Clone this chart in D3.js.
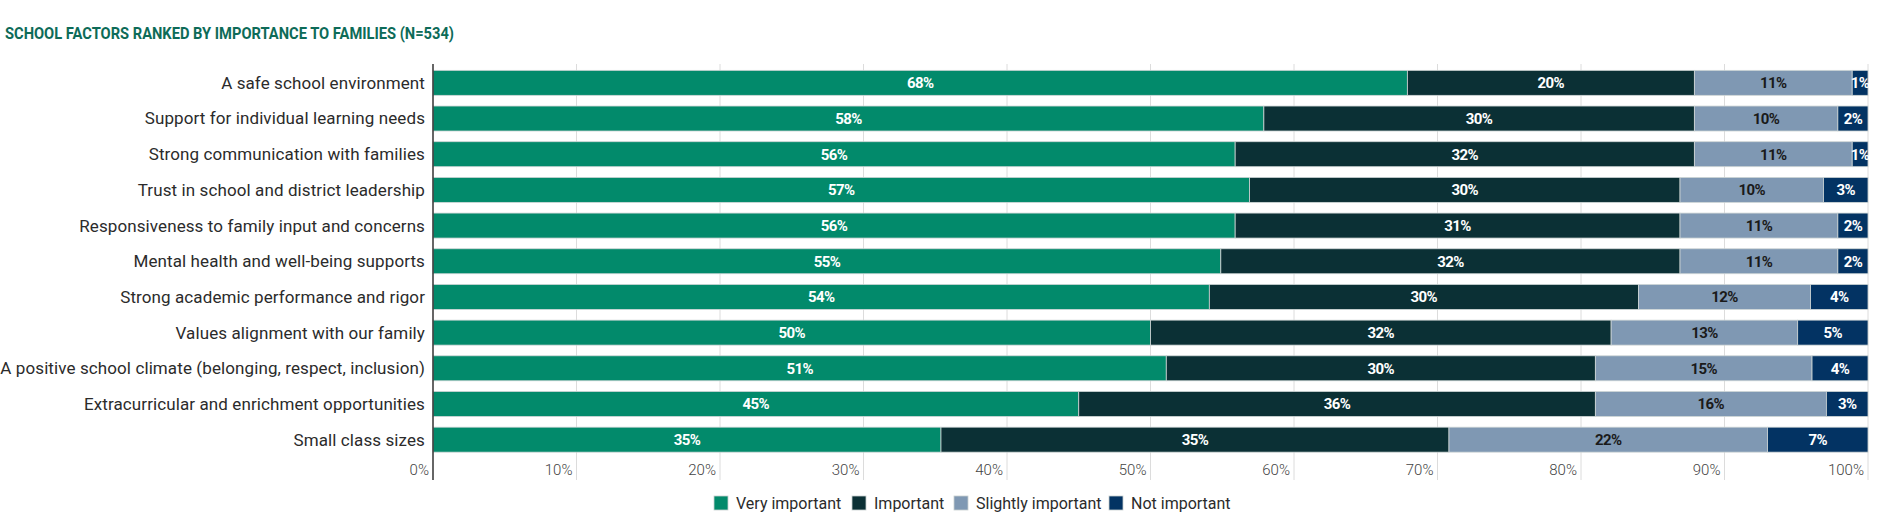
<!DOCTYPE html>
<html>
<head>
<meta charset="utf-8">
<script src="https://cdn.jsdelivr.net/npm/d3@7"></script>
<style>
  body { margin: 0; background: #fff; }
  svg { display: block; font-family: Roboto, "Noto Sans", sans-serif; }
</style>
</head>
<body>
<div id="chart-area"></div>
<script>
// DATA
const categories = [
	'A safe school environment',
	'Support for individual learning needs',
	'Strong communication with families',
	'Trust in school and district leadership',
	'Responsiveness to family input and concerns',
	'Mental health and well-being supports',
	'Strong academic performance and rigor',
	'Values alignment with our family',
	'A positive school climate (belonging, respect, inclusion)',
	'Extracurricular and enrichment opportunities',
	'Small class sizes'
];
const seriesNames = ['Very important', 'Important', 'Slightly important', 'Not important'];
const veryImportant     = [67.9, 57.9, 55.9, 56.9, 55.9, 54.9, 54.1, 50.0, 51.1, 45.0, 35.4];
const important         = [20.0, 30.0, 32.0, 30.0, 31.0, 32.0, 29.9, 32.1, 29.9, 36.0, 35.4];
const slightlyImportant = [11.0, 10.0, 11.0, 10.0, 11.0, 11.0, 12.0, 13.0, 15.1, 16.1, 22.2];
const notImportant      = [1.1, 2.1, 1.1, 3.1, 2.1, 2.1, 4.0, 4.9, 3.9, 2.9, 7.0];
const xTicks = [0, 10, 20, 30, 40, 50, 60, 70, 80, 90, 100];

const colors = ['#028a6b', '#0b3035', '#7f98b3', '#033363'];
const labelColors = ['#fff', '#fff', '#1a1a1a', '#fff'];

const width = 1884, height = 520;
const margin = {top: 65, left: 433, right: 16, bottom: 62};

const svg = d3.select('#chart-area')
	.append('svg')
		.attr('width', width)
		.attr('height', height);

// TITLE
svg.append('text')
	.attr('x', 5)
	.attr('y', 39)
	.attr('fill', '#0d6b58')
	.attr('font-weight', 700)
	.attr('font-size', 16)
	.attr('textLength', 449)
	.attr('lengthAdjust', 'spacingAndGlyphs')
	.text('SCHOOL FACTORS RANKED BY IMPORTANCE TO FAMILIES (N=534)');

// table built from the arrays
const rows = categories.map((c, i) => ({
	category: c,
	'Very important': veryImportant[i],
	'Important': important[i],
	'Slightly important': slightlyImportant[i],
	'Not important': notImportant[i]
}));
const stacked = d3.stack().keys(seriesNames)(rows);

// SCALES
const xScale = d3.scaleLinear()
	.domain([0, 100])
	.range([margin.left, width - margin.right]);

const yScale = d3.scaleBand()
	.domain(categories)
	.range([margin.top, margin.top + 392.5])
	.paddingInner(0.3)
	.paddingOuter(0.15);

// GRIDLINES
svg.append('g')
	.selectAll('line')
	.data(xTicks.slice(1))
	.join('line')
		.attr('x1', d => xScale(d))
		.attr('x2', d => xScale(d))
		.attr('y1', margin.top - 1)
		.attr('y2', 480)
		.attr('stroke', '#dcdcdc')
		.attr('stroke-width', 1);

// BARS
const layers = svg.append('g')
	.selectAll('g')
	.data(stacked)
	.join('g')
		.attr('fill', (d, i) => colors[i]);

layers.selectAll('rect')
	.data(d => d)
	.join('rect')
		.attr('x', d => xScale(d[0]))
		.attr('y', d => yScale(d.data.category))
		.attr('width', d => xScale(d[1]) - xScale(d[0]))
		.attr('height', yScale.bandwidth())
		.attr('stroke', '#cfd6d6')
		.attr('stroke-width', 0.8);

// VALUE LABELS
stacked.forEach((layer, i) => {
	svg.append('g')
		.selectAll('text')
		.data(layer)
		.join('text')
			.attr('x', d => (xScale(d[0]) + xScale(d[1])) / 2)
			.attr('y', d => yScale(d.data.category) + yScale.bandwidth() / 2)
			.attr('dy', '0.36em')
			.attr('text-anchor', 'middle')
			.attr('font-size', 15)
			.attr('font-weight', 700)
			.attr('letter-spacing', -0.6)
			.attr('fill', labelColors[i])
			.text(d => Math.round(d[1] - d[0]) + '%');
});

// Y AXIS (category labels + line)
svg.append('g')
	.selectAll('text')
	.data(categories)
	.join('text')
		.attr('x', margin.left - 8)
		.attr('y', d => yScale(d) + yScale.bandwidth() / 2)
		.attr('dy', '0.35em')
		.attr('text-anchor', 'end')
		.attr('font-size', 17)
		.attr('letter-spacing', 0.1)
		.attr('fill', '#2b2b2b')
		.text(d => d);

svg.append('line')
	.attr('x1', margin.left)
	.attr('x2', margin.left)
	.attr('y1', margin.top - 1)
	.attr('y2', 480)
	.attr('stroke', '#333')
	.attr('stroke-width', 1.5);

// X TICK LABELS
svg.append('g')
	.selectAll('text')
	.data(xTicks)
	.join('text')
		.attr('x', d => xScale(d) - 4)
		.attr('y', 470)
		.attr('dy', '0.35em')
		.attr('text-anchor', 'end')
		.attr('font-size', 15)
		.attr('font-weight', 300)
		.attr('fill', '#444')
		.text(d => d + '%');

// LEGEND
const legendX = [714, 852, 954, 1109];
const legend = svg.append('g');
seriesNames.forEach((s, i) => {
	const item = legend.append('g')
		.attr('transform', `translate(${legendX[i]},496)`);
	item.append('rect')
		.attr('width', 14)
		.attr('height', 14)
		.attr('fill', colors[i])
		.attr('stroke', '#c8d0d0')
		.attr('stroke-width', 0.8);
	item.append('text')
		.attr('x', 22)
		.attr('y', 7)
		.attr('dy', '0.35em')
		.attr('font-size', 16)
		.attr('fill', '#2b2b2b')
		.text(s);
});
</script>
</body>
</html>
